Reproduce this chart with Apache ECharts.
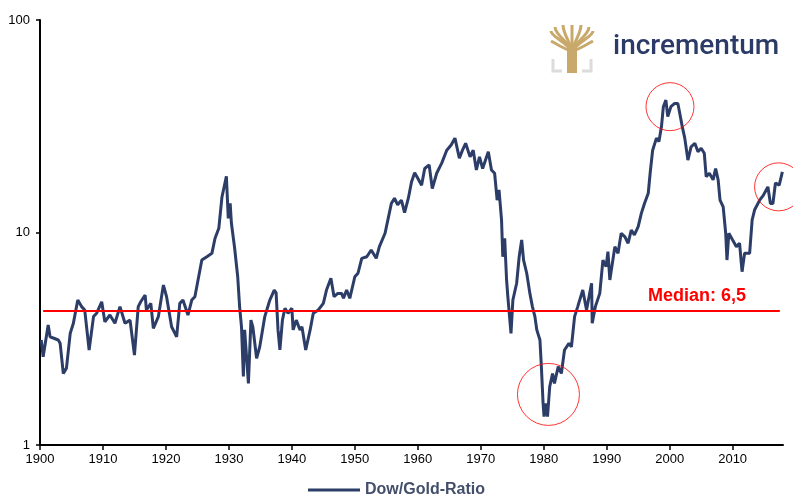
<!DOCTYPE html>
<html>
<head>
<meta charset="utf-8">
<script src="https://cdn.jsdelivr.net/npm/echarts@6/dist/echarts.min.js"></script>
<style>
    html, body { margin: 0; padding: 0; background: #fff; }
    #chart { width: 793px; height: 495px; }
</style>
</head>
<body>
<div id="chart"></div>
<script>
// Dow/Gold ratio (year, ratio)
const years = [
    1900.2, 1900.5, 1901.3, 1901.6, 1902.2, 1902.9, 1903.2, 1903.7, 1904.2, 1904.8,
    1905.3, 1906.0, 1906.6, 1907.1, 1907.8, 1908.5, 1909.0, 1909.8, 1910.3, 1911.1,
    1911.9, 1912.7, 1913.5, 1914.3, 1915.0, 1915.6, 1916.0, 1916.7, 1916.9, 1917.6,
    1918.0, 1918.8, 1919.6, 1920.1, 1920.9, 1921.7, 1922.2, 1922.7, 1923.5, 1924.1,
    1924.6, 1925.1, 1925.7, 1926.5, 1927.3, 1927.8, 1928.4, 1928.9, 1929.2, 1929.6,
    1929.9, 1930.2, 1930.4, 1930.9, 1931.4, 1931.7, 1932.0, 1932.3, 1932.5, 1933.1,
    1933.5, 1933.8, 1934.4, 1934.9, 1935.7, 1936.5, 1937.2, 1937.5, 1937.8, 1938.1,
    1938.5, 1938.9, 1939.4, 1940.0, 1940.2, 1940.7, 1941.3, 1941.6, 1942.2, 1942.9,
    1943.4, 1944.2, 1945.0, 1945.5, 1946.2, 1946.7, 1947.3, 1947.9, 1948.2, 1948.7,
    1949.2, 1950.0, 1950.5, 1951.1, 1951.9, 1952.6, 1953.4, 1953.9, 1954.8, 1955.3,
    1955.8, 1956.3, 1956.8, 1957.4, 1957.9, 1958.5, 1959.0, 1959.5, 1960.0, 1960.6,
    1961.1, 1961.8, 1962.3, 1963.0, 1963.8, 1964.6, 1965.3, 1965.9, 1966.6, 1967.1,
    1967.6, 1968.3, 1968.8, 1969.3, 1969.8, 1970.3, 1971.2, 1971.7, 1972.2, 1972.6,
    1972.9, 1973.3, 1973.5, 1973.8, 1974.1, 1974.3, 1974.8, 1975.1, 1975.7, 1976.1,
    1976.5, 1976.8, 1977.3, 1977.8, 1978.2, 1978.6, 1978.9, 1979.4, 1979.6, 1979.9,
    1980.05, 1980.4, 1980.6, 1980.95, 1981.4, 1981.7, 1982.3, 1982.8, 1983.3, 1984.0,
    1984.4, 1984.9, 1985.4, 1986.2, 1986.8, 1987.6, 1987.7, 1988.2, 1988.9, 1989.4,
    1989.9, 1990.2, 1990.5, 1991.3, 1991.8, 1992.3, 1992.9, 1993.4, 1993.9, 1994.4,
    1995.0, 1995.5, 1996.0, 1996.6, 1996.9, 1997.3, 1997.9, 1998.3, 1998.7, 1999.0,
    1999.4, 1999.7, 2000.2, 2000.8, 2001.3, 2001.6, 2002.0, 2002.4, 2002.9, 2003.4,
    2004.0, 2004.5, 2005.0, 2005.5, 2005.8, 2006.3, 2006.9, 2007.3, 2007.7, 2008.0,
    2008.5, 2008.9, 2009.1, 2009.4, 2010.0, 2010.6, 2011.1, 2011.5, 2011.9, 2012.7,
    2013.1, 2013.5, 2014.3, 2014.9, 2015.6, 2016.0, 2016.4, 2016.8, 2017.4, 2017.9
];
const ratio = [
    3.12, 2.60, 3.67, 3.23, 3.18, 3.12, 3.01, 2.17, 2.30, 3.35,
    3.74, 4.81, 4.48, 4.32, 2.80, 4.02, 4.17, 4.72, 3.80, 4.09,
    3.74, 4.48, 3.74, 3.87, 2.65, 4.48, 4.72, 5.08, 4.32, 4.64,
    3.54, 4.02, 5.66, 4.99, 3.60, 3.23, 4.64, 4.81, 4.09, 4.81,
    4.99, 5.98, 7.42, 7.69, 7.98, 9.40, 10.47, 14.7, 15.0, 18.4,
    11.66, 13.7, 11.05, 8.5, 6.19, 4.48, 3.60, 2.10, 3.48, 1.95,
    3.87, 3.60, 2.56, 2.90, 4.02, 4.81, 5.36, 5.20, 3.48, 2.80,
    3.87, 4.40, 4.17, 4.40, 3.48, 3.87, 3.48, 3.60, 2.80, 3.48,
    4.17, 4.32, 4.64, 5.36, 6.09, 4.99, 5.17, 5.17, 4.90, 5.36,
    4.90, 6.19, 6.43, 7.56, 7.69, 8.27, 7.56, 8.58, 9.92, 11.66,
    13.7, 14.5, 13.5, 14.2, 12.4, 14.5, 17.3, 19.1, 18.0, 16.7,
    20.0, 20.8, 16.1, 19.0, 21.2, 24.4, 25.8, 27.8, 22.4, 24.4,
    26.3, 22.7, 24.4, 19.7, 22.7, 20.0, 24.0, 19.7, 19.0, 14.2,
    15.85, 11.45, 7.69, 9.40, 5.98, 4.99, 3.35, 4.81, 5.77, 7.69,
    9.22, 7.42, 6.43, 5.17, 4.48, 4.02, 3.48, 3.12, 2.42, 1.57,
    1.36, 1.57, 1.36, 1.88, 2.17, 1.95, 2.34, 2.17, 2.80, 3.01,
    2.90, 4.02, 4.48, 5.36, 4.32, 5.77, 3.74, 4.48, 5.17, 7.42,
    6.91, 8.12, 5.98, 8.58, 7.98, 9.92, 9.54, 8.90, 10.27, 9.74,
    10.65, 12.3, 13.7, 15.3, 19.0, 24.4, 27.8, 26.8, 31.5, 39.1,
    42.0, 35.1, 39.1, 40.5, 40.5, 36.4, 31.5, 27.8, 21.9, 25.3,
    26.3, 24.0, 24.9, 23.6, 18.3, 19.0, 17.7, 20.0, 17.7, 14.2,
    13.2, 9.92, 7.42, 9.92, 9.22, 8.58, 8.90, 6.54, 7.98, 7.98,
    11.45, 12.8, 14.2, 15.0, 16.4, 13.7, 13.7, 17.1, 16.7, 19.3
];

// median line (drawn level in the picture) and its label
const medianLevel = 4.3;
const medianStart = 1900.5;
const medianEnd = 2017.5;
const medianLabel = 'Median: 6,5';

// highlighted episodes (red circles)
const circleYears = [1980.75, 2000.05, 2017.3];
const circleValues = [1.73, 39.1, 16.4];

const yTicks = [1, 10, 100];

const navy = '#2c3d68';
const red = '#ff0000';
const gold = '#c8a96b';

let chart = echarts.init(document.getElementById('chart'));

let lineData = years.map((y, i) => [y, ratio[i]]);
let circleData = circleYears.map((y, i) => [y, circleValues[i]]);
let circleDiam = [62, 48, 48];

// small tree logo + wordmark
let branchEnds = [[551, 31], [555, 27], [563, 25], [572, 25], [581, 25], [589, 27], [593, 31]];
let logo = branchEnds.map(p => ({
    type: 'bezierCurve',
    shape: { x1: 572, y1: 54, cpx1: 572, cpy1: 44, cpx2: p[0], cpy2: (p[1] + 44) / 2, x2: p[0], y2: p[1] },
    style: { stroke: gold, lineWidth: 3, fill: null },
}));
logo.push(
    {
        type: 'polyline',
        shape: { points: [[551, 41], [560, 46], [568, 50]] },
        style: { stroke: gold, lineWidth: 3, fill: null },
    },
    {
        type: 'polyline',
        shape: { points: [[593, 41], [584, 46], [576, 50]] },
        style: { stroke: gold, lineWidth: 3, fill: null },
    },
    {
        type: 'rect',
        shape: { x: 567, y: 48, width: 10, height: 25 },
        style: { fill: gold },
    },
    {
        type: 'polyline',
        shape: { points: [[553, 59], [553, 71], [562, 71]] },
        style: { stroke: '#dcdcdc', lineWidth: 3, fill: null },
    },
    {
        type: 'polyline',
        shape: { points: [[582, 71], [591, 71], [591, 59]] },
        style: { stroke: '#dcdcdc', lineWidth: 3, fill: null },
    },
    {
        type: 'text',
        style: {
            x: 613,
            y: 61,
            text: 'incrementum',
            fill: '#2b3a66',
            font: '500 28px Roboto, "Liberation Sans", Arial, sans-serif',
            textVerticalAlign: 'bottom',
        },
    },
    {
        type: 'text',
        left: 648,
        top: 287,
        style: {
            text: medianLabel,
            fill: red,
            font: 'bold 18px "Liberation Sans", Arial, sans-serif',
        },
    }
);

let option = {
    animation: false,
    textStyle: { fontFamily: '"Liberation Sans", Arial, sans-serif' },
    grid: { left: 40, right: 10, top: 20, bottom: 50 },
    legend: {
        data: ['Dow/Gold-Ratio'],
        left: 303,
        top: 477,
        icon: 'rect',
        itemWidth: 52,
        itemHeight: 3,
        itemGap: 5,
        textStyle: { fontSize: 16, fontWeight: 'bold', color: '#434e6b' },
    },
    xAxis: {
        type: 'value',
        min: 1900,
        max: 2018,
        interval: 10,
        splitLine: { show: false },
        axisLine: { lineStyle: { color: '#000', width: 2 } },
        axisTick: { length: 5, lineStyle: { color: '#000', width: 1.5 } },
        axisLabel: { color: '#000', fontSize: 13, margin: 8, formatter: v => String(v), showMaxLabel: false },
    },
    yAxis: {
        type: 'log',
        logBase: 10,
        min: yTicks[0],
        max: yTicks[yTicks.length - 1],
        splitLine: { show: false },
        axisLine: { show: true, lineStyle: { color: '#000', width: 2 } },
        axisTick: { show: true, length: 4, lineStyle: { color: '#000', width: 1.5 } },
        minorTick: { show: false },
        axisLabel: { color: '#000', fontSize: 13, margin: 10, formatter: v => String(v) },
    },
    graphic: logo,
    series: [
        {
            name: 'Dow/Gold-Ratio',
            type: 'line',
            data: lineData,
            showSymbol: false,
            color: navy,
            lineStyle: { color: navy, width: 3 },
            z: 3,
            markLine: {
                silent: true,
                symbol: 'none',
                label: { show: false },
                lineStyle: { color: red, width: 2, type: 'solid' },
                data: [[{ coord: [medianStart, medianLevel] }, { coord: [medianEnd, medianLevel] }]],
            },
        },
        {
            name: 'circles',
            type: 'scatter',
            data: circleData,
            symbol: 'circle',
            symbolSize: (v, p) => circleDiam[p.dataIndex],
            clip: false,
            itemStyle: { color: 'rgba(0,0,0,0)', borderColor: red, borderWidth: 1 },
            z: 4,
        },
    ],
};
chart.setOption(option);
</script>
</body>
</html>
